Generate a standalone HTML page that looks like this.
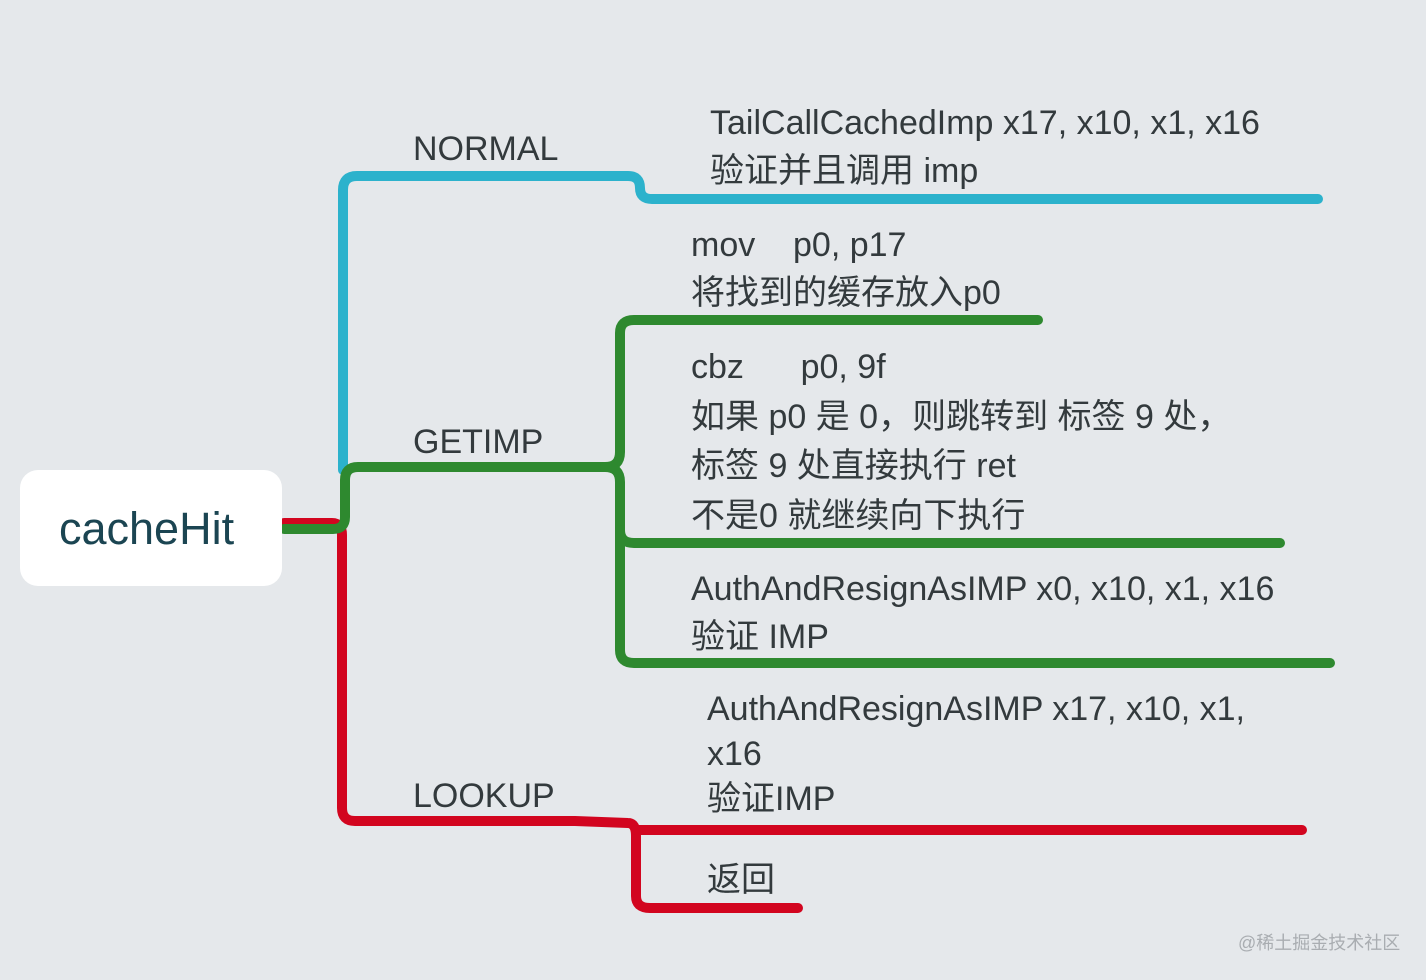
<!DOCTYPE html>
<html><head><meta charset="utf-8"><style>
body{margin:0;width:1426px;height:980px;background:#e5e8eb;overflow:hidden;position:relative;font-family:"Liberation Sans","Noto Sans CJK SC",sans-serif;}
.t{position:absolute;color:#333a3d;font-size:34px;line-height:48px;white-space:nowrap;}
</style></head><body>
<svg width="1426" height="980" style="position:absolute;left:0;top:0" fill="none" stroke-width="10" stroke-linecap="round" stroke-linejoin="round">
<path d="M343 470 V190 Q343 176 357 176 H628 Q640 176 640 188 Q640 199 652 199 H1318" stroke="#2cb2cc"/>
<path d="M284 523 H332 Q342 523 342 535 V808 Q342 821 355 821 H575 L628 823 Q636 823 636 836 V896 Q636 908 650 908 H798" stroke="#d2051f"/>
<path d="M636 830 H1302" stroke="#d2051f"/>
<path d="M284 529 H333 Q345 529 345 517 V480 Q345 467 358 467 H605 Q620 467 620 452 V333 Q620 320 634 320 H1038" stroke="#2e892f"/>
<path d="M605 467 Q620 467 620 482 V530 Q620 543 634 543 H1280" stroke="#2e892f"/>
<path d="M620 530 V650 Q620 663 634 663 H1330" stroke="#2e892f"/>
</svg>
<div style="position:absolute;left:20px;top:470px;width:262px;height:116px;background:#fff;border-radius:18px;"></div>
<div class="t" style="left:59px;top:502px;font-size:45px;line-height:54px;color:#1b4552">cacheHit</div>
<div class="t" style="left:413px;top:125px">NORMAL</div>
<div class="t" style="left:413px;top:418px">GETIMP</div>
<div class="t" style="left:413px;top:772px">LOOKUP</div>
<div class="t" style="left:710px;top:99px">TailCallCachedImp x17, x10, x1, x16<br>验证并且调用 imp</div>
<div class="t" style="left:691px;top:221px">mov &nbsp;&nbsp;&nbsp;p0, p17<br>将找到的缓存放入p0</div>
<div class="t" style="left:691px;top:343px;line-height:49.5px">cbz &nbsp;&nbsp;&nbsp;&nbsp;&nbsp;p0, 9f<br>如果 p0 是 0，则跳转到 标签 9 处，<br>标签 9 处直接执行 ret<br>不是0 就继续向下执行</div>
<div class="t" style="left:691px;top:565px">AuthAndResignAsIMP x0, x10, x1, x16<br>验证 IMP</div>
<div class="t" style="left:707px;top:687px;line-height:45px">AuthAndResignAsIMP x17, x10, x1,<br>x16<br>验证IMP</div>
<div class="t" style="left:707px;top:856px">返回</div>
<div class="t" style="left:1238px;top:930px;font-size:18px;line-height:26px;color:#a9adb1">@稀土掘金技术社区</div>
</body></html>
